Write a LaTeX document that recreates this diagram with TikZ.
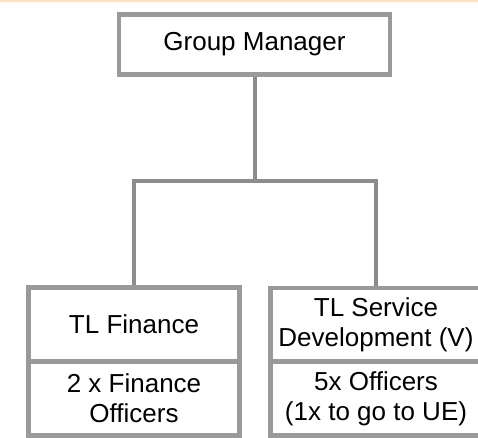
\documentclass[tikz,border=0pt]{standalone}
\usepackage{fontspec}
\setmainfont{Liberation Sans}
\definecolor{boxgray}{HTML}{9A9A9A}
\definecolor{conngray}{HTML}{8C8C8C}
\definecolor{topline}{HTML}{FCE3C5}
\begin{document}
\begin{tikzpicture}[x=0.75pt,y=-0.75pt,
  cell/.style={draw=boxgray, line width=3.5pt, fill=white, inner sep=0pt,
    align=center, font=\fontsize{19.5}{22.5}\selectfont,
    minimum width=158.25pt, minimum height=55.5pt},
  topcell/.style={cell, minimum width=203.25pt, minimum height=45pt},
  conn/.style={draw=conngray, line width=3pt}]
\clip (0,0) rectangle (478,438);
\fill[white] (0,0) rectangle (478,438);
\fill[topline] (0,0) rectangle (478,1.6);
\node[topcell] (gm) at (254.5,44.5) {Group Manager};
\node[cell] (tlf) at (134,324.5) {TL Finance};
\node[cell] (tlfo) at (134,398.5) {2 x Finance\\Officers};
\node[cell] (tls) at (376,325) {TL Service\\Development (V)};
\node[cell] (tlso) at (376,398.5) {5x Officers\\(1x to go to UE)};
\coordinate (j) at (254.5,180.7);
\draw[conn] (gm.south) -- (j);
\draw[conn] (j) -| (tlf.north);
\draw[conn] (j) -| (tls.north);
\end{tikzpicture}
\end{document}
